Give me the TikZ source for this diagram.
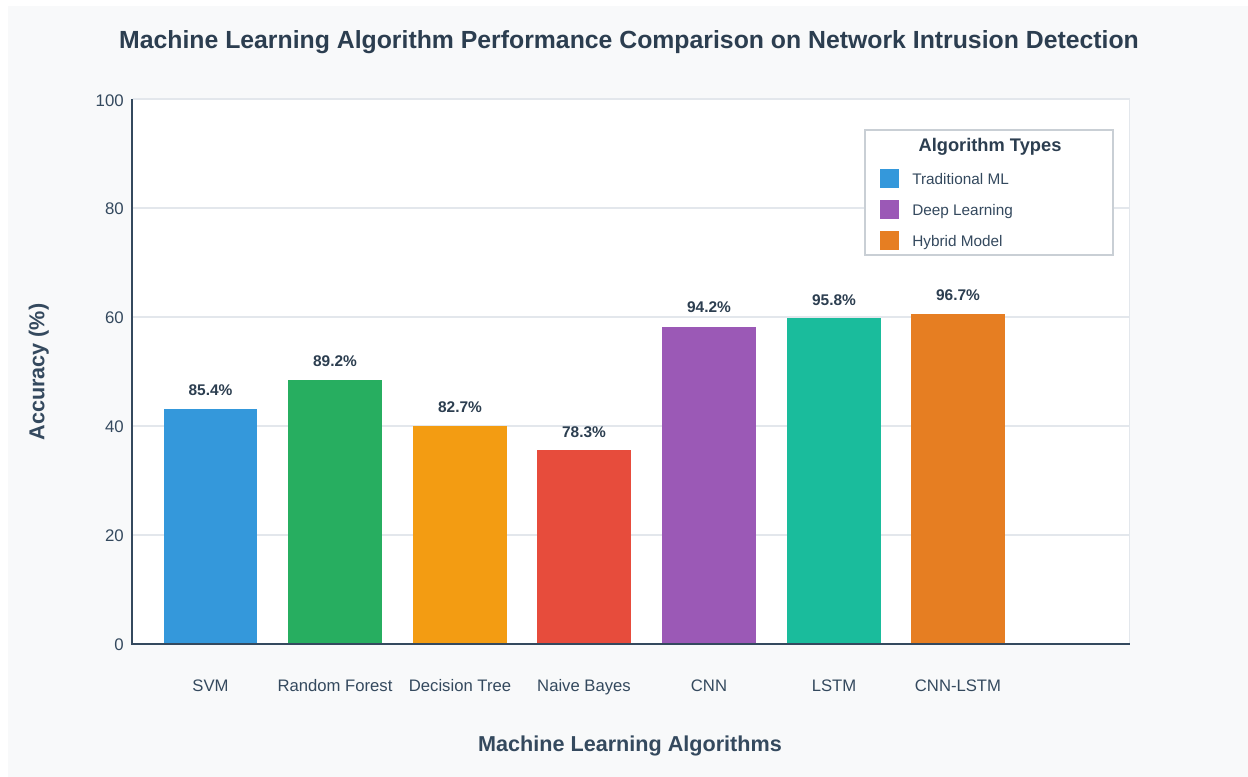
\documentclass[tikz,border=0pt]{standalone}
\usepackage{fontspec}
\setmainfont{Liberation Sans}
\definecolor{pagebg}{HTML}{F8F9FA}
\definecolor{titlec}{HTML}{2C3E50}
\definecolor{axisc}{HTML}{34495E}
\definecolor{gridc}{HTML}{E3E7EC}
\definecolor{legbord}{HTML}{C9CFD5}
\definecolor{cSVM}{HTML}{3498DB}
\definecolor{cRF}{HTML}{27AE60}
\definecolor{cDT}{HTML}{F39C12}
\definecolor{cNB}{HTML}{E74C3C}
\definecolor{cCNN}{HTML}{9B59B6}
\definecolor{cLSTM}{HTML}{1ABC9C}
\definecolor{cHYB}{HTML}{E67E22}
\tikzset{
  txt/.style={inner sep=0pt, text height=0.72em, text depth=0.21em},
  titletext/.style={txt, font=\fontsize{18.6}{22}\selectfont\bfseries, text=titlec},
  axtitle/.style={txt, font=\fontsize{16.2}{19}\selectfont\bfseries, text=axisc},
  ticklab/.style={txt, font=\fontsize{12.6}{15}\selectfont, text=axisc, anchor=east},
  catlab/.style={txt, font=\fontsize{12.5}{15}\selectfont, text=axisc},
  vallab/.style={txt, font=\fontsize{11.6}{14}\selectfont\bfseries, text=titlec},
  gridline/.style={draw=gridc, line width=1.5pt},
  axisline/.style={draw=axisc, line width=2pt},
  legtitle/.style={txt, font=\fontsize{13.7}{16}\selectfont\bfseries, text=titlec},
  legtext/.style={txt, font=\fontsize{11.5}{14}\selectfont, text=axisc, anchor=west},
  swatch/.style={minimum width=14.25pt, minimum height=14.25pt, inner sep=0pt, draw=none},
}
\begin{document}
\begin{tikzpicture}[x=0.75pt,y=-0.75pt]
\useasboundingbox (0,0) rectangle (1248,777);
\fill[white] (0,0) rectangle (1248,777);
\fill[pagebg] (8,6) rectangle (1248,777);
% plot area
\fill[white] (133,99) rectangle (1130,644);
\draw[draw=gridc, line width=1pt] (1129.5,99) -- (1129.5,644);
\foreach \yy in {99,208,317,426,535} {\draw[gridline] (133,\yy) -- (1130,\yy);}
% title
\node[titletext] (title) at (629,45) {Machine Learning Algorithm Performance Comparison on Network Intrusion Detection};
% bars
\fill[cSVM] (164,409) rectangle (257,644);
\fill[cRF] (288,380) rectangle (382,644);
\fill[cDT] (413,426) rectangle (507,644);
\fill[cNB] (537,450) rectangle (631,644);
\fill[cCNN] (662,327) rectangle (756,644);
\fill[cLSTM] (787,318) rectangle (881,644);
\fill[cHYB] (911,314) rectangle (1005,644);
% axes
\coordinate (origin) at (132,644);
\coordinate (ytop) at (132,99);
\coordinate (xend) at (1130,644);
\draw[axisline] (ytop) -- (origin) -- (xend);
% tick labels
\node[ticklab] (t0) at (124,647) {0};
\node[ticklab] (t20) at (124,538) {20};
\node[ticklab] (t40) at (124,429) {40};
\node[ticklab] (t60) at (124,320) {60};
\node[ticklab] (t80) at (124,211) {80};
\node[ticklab] (t100) at (124,103) {100};
% value labels
\node[vallab] (v1) at (210.5,392) {85.4\%};
\node[vallab] (v2) at (335,363) {89.2\%};
\node[vallab] (v3) at (460,409) {82.7\%};
\node[vallab] (v4) at (584,434) {78.3\%};
\node[vallab] (v5) at (709,309) {94.2\%};
\node[vallab] (v6) at (834,302) {95.8\%};
\node[vallab] (v7) at (958,297) {96.7\%};
% category labels
\node[catlab] (c1) at (210.5,688) {SVM};
\node[catlab] (c2) at (335,688) {Random Forest};
\node[catlab] (c3) at (460,688) {Decision Tree};
\node[catlab] (c4) at (584,688) {Naive Bayes};
\node[catlab] (c5) at (709,688) {CNN};
\node[catlab] (c6) at (834,688) {LSTM};
\node[catlab] (c7) at (958,688) {CNN-LSTM};
% axis titles
\node[axtitle] (xtitle) at (630,748) {Machine Learning Algorithms};
\node[axtitle, rotate=90] (ytitle) at (41,372) {Accuracy (\%)};
% legend
\draw[draw=legbord, fill=white, line width=1.2pt] (865,130) rectangle (1113,255);
\node[legtitle] (legt) at (990,148.5) {Algorithm Types};
\node[swatch, fill=cSVM] (s1) at (889.5,178.5) {};
\node[swatch, fill=cCNN] (s2) at (889.5,209.5) {};
\node[swatch, fill=cHYB] (s3) at (889.5,240.5) {};
\node[legtext] (l1) at (912,181) {Traditional ML};
\node[legtext] (l2) at (912,212) {Deep Learning};
\node[legtext] (l3) at (912,243) {Hybrid Model};
\end{tikzpicture}
\end{document}
